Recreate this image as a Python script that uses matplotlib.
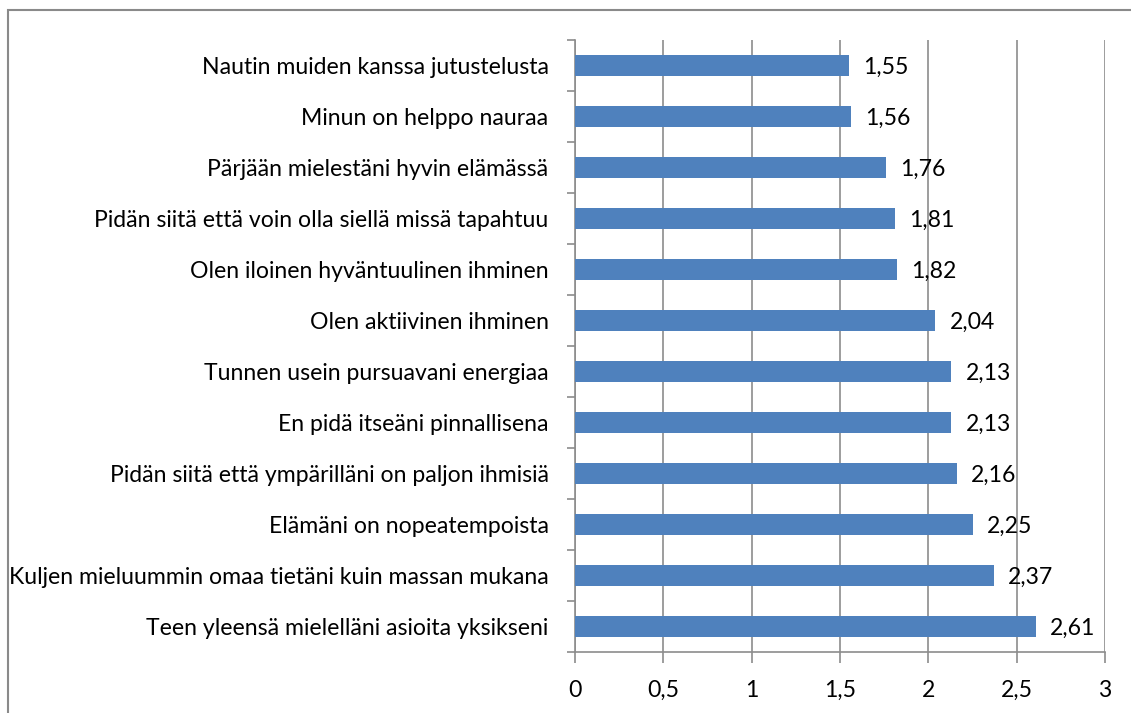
import numpy as np
import matplotlib.pyplot as plt
from matplotlib.patches import Rectangle

# statements, top to bottom as in the chart
categories = [
    "Nautin muiden kanssa jutustelusta",
    "Minun on helppo nauraa",
    "Pärjään mielestäni hyvin elämässä",
    "Pidän siitä että voin olla siellä missä tapahtuu",
    "Olen iloinen hyväntuulinen ihminen",
    "Olen aktiivinen ihminen",
    "Tunnen usein pursuavani energiaa",
    "En pidä itseäni pinnallisena",
    "Pidän siitä että ympärilläni on paljon ihmisiä",
    "Elämäni on nopeatempoista",
    "Kuljen mieluummin omaa tietäni kuin massan mukana",
    "Teen yleensä mielelläni asioita yksikseni",
]
values = [1.55, 1.56, 1.76, 1.81, 1.82, 2.04, 2.13, 2.13, 2.16, 2.25, 2.37, 2.61]
x_ticks = [0, 0.5, 1, 1.5, 2, 2.5, 3]

plt.rcParams['font.family'] = ['Lato', 'DejaVu Sans']
fsize = 16.6
grid_col = '#8c8c8c'

fig = plt.figure(figsize=(11.31, 7.13), dpi=100)
ax = fig.add_axes([575 / 1131, 1 - 652 / 713, 530 / 1131, 612 / 713])

# outer chart border
fig.patches.append(Rectangle((8 / 1131, -0.1), 1.2, 1 - 10 / 713 + 0.1,
                             transform=fig.transFigure, fill=False,
                             edgecolor='#8a8a8a', linewidth=1.5))

y = np.arange(len(categories))
ax.barh(y, values, height=0.4, color='#4f81bd', zorder=3)
for yi, v in zip(y, values):
    ax.text(v + 0.08, yi + 0.04, f"{v:.2f}".replace('.', ','), va='center',
            ha='left', fontsize=fsize, zorder=4)

ax.set_xlim(0, 3)
ax.set_ylim(len(categories) - 0.5, -0.5)
ax.set_xticks(x_ticks)
ax.set_xticklabels([str(t).replace('.', ',') for t in x_ticks], fontsize=fsize)
ax.set_yticks(y)
ax.set_yticklabels(categories, fontsize=fsize)
ax.set_yticks(np.arange(-0.5, len(categories)), minor=True)
ax.tick_params(axis='y', which='major', length=0, pad=19)
ax.tick_params(axis='y', which='minor', length=6, color=grid_col, width=1.2)
ax.tick_params(axis='x', length=8, color=grid_col, width=1.2, pad=12)

ax.grid(axis='x', color=grid_col, linewidth=1.2, zorder=0)
for s in ['top', 'right']:
    ax.spines[s].set_visible(False)
for s in ['left', 'bottom']:
    ax.spines[s].set_color(grid_col)
    ax.spines[s].set_linewidth(1.2)

fig.savefig('out.png', dpi=100)
